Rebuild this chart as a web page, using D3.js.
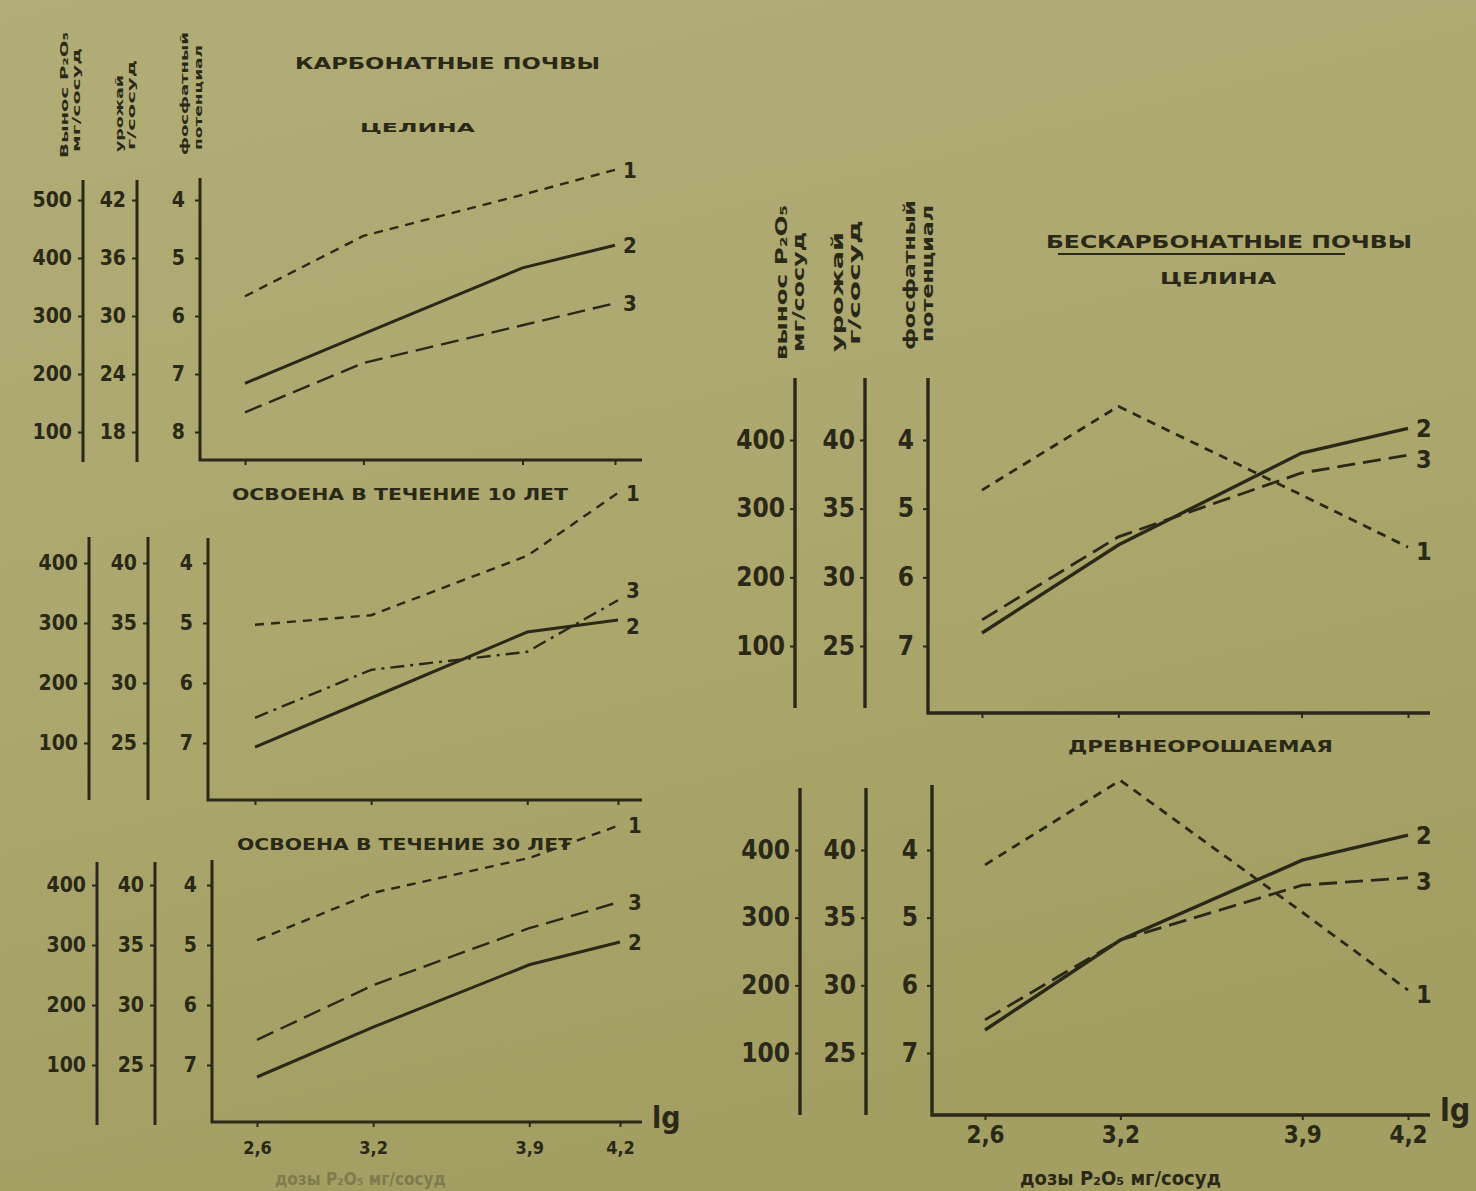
<!DOCTYPE html>
<html>
<head>
<meta charset="utf-8">
<script src="https://cdn.jsdelivr.net/npm/d3@7"></script>
<style>
  body { margin: 0; background: #aaa66d; }
  svg { display: block; }
  text { font-family: 'DejaVu Sans Condensed', 'Liberation Sans Narrow', sans-serif; font-weight: bold; fill: #2a2917; }
</style>
</head>
<body>
<svg id="chart" width="1476" height="1191"></svg>
<script>
// doses of P2O5, lg scale
var doses = [2.6, 3.2, 3.9, 4.2];
var doseLabels = ["2,6", "3,2", "3,9", "4,2"];

// tick labels of the three left axes
var potTicksA = [4, 5, 6, 7, 8];
var uptakeTicksA = [500, 400, 300, 200, 100];
var yieldTicksA = [42, 36, 30, 24, 18];
var potTicks = [4, 5, 6, 7];
var uptakeTicks = [400, 300, 200, 100];
var yieldTicks = [40, 35, 30, 25];

// phosphate potential per dose, curves 1, 2, 3
var carbVirgin1 = [5.66, 4.62, 3.91, 3.48];
var carbVirgin2 = [7.16, 6.31, 5.17, 4.78];
var carbVirgin3 = [7.66, 6.81, 6.16, 5.78];
var carb10y1 = [5.03, 4.87, 3.88, 2.83];
var carb10y2 = [7.07, 6.25, 5.15, 4.95];
var carb10y3 = [6.58, 5.78, 5.48, 4.62];
var carb30y1 = [4.92, 4.13, 3.55, 3.0];
var carb30y2 = [7.2, 6.37, 5.33, 4.95];
var carb30y3 = [6.58, 5.67, 4.72, 4.28];
var nonCarbVirgin1 = [4.73, 3.51, 4.80, 5.56];
var nonCarbVirgin2 = [6.81, 5.53, 4.19, 3.83];
var nonCarbVirgin3 = [6.62, 5.41, 4.48, 4.22];
var nonCarbIrr1 = [4.22, 2.97, 4.92, 6.07];
var nonCarbIrr2 = [6.66, 5.33, 4.15, 3.78];
var nonCarbIrr3 = [6.51, 5.33, 4.52, 4.41];

var ink = "#2a2917";
var svg = d3.select("#chart");

var defs = svg.append("defs");
var grad = defs.append("linearGradient").attr("id", "paper")
    .attr("x1", 0).attr("y1", 0).attr("x2", 0.3).attr("y2", 1);
grad.append("stop").attr("offset", "0%").attr("stop-color", "#b2ad77");
grad.append("stop").attr("offset", "60%").attr("stop-color", "#aaa66c");
grad.append("stop").attr("offset", "100%").attr("stop-color", "#a39f63");
svg.append("rect").attr("width", 1476).attr("height", 1191).attr("fill", "url(#paper)");

var doseFrac = [0, 0.32, 0.75, 1];
var dashes = [ "9,7", null, "18,8" ];
var fmt = d3.format("d");

var drawPanel = function(p) {
  var g = svg.append("g");
  var x = d3.scaleLinear()
      .domain(doses)
      .range(doseFrac.map(function(f) { return p.x0 + f * (p.x1 - p.x0); }));
  var y = d3.scaleLinear()
      .domain([p.pot[0], p.pot[p.pot.length - 1]])
      .range([p.yTop, p.yBot]);
  var yUp = d3.scaleLinear()
      .domain([p.uptake[0], p.uptake[p.uptake.length - 1]])
      .range([p.yTop, p.yBot]);
  var yYield = d3.scaleLinear()
      .domain([p.yields[0], p.yields[p.yields.length - 1]])
      .range([p.yTop, p.yBot]);

  // two outer axes
  [[p.ax1, yUp, p.uptake], [p.ax2, yYield, p.yields]].forEach(function(a) {
    g.append("line")
        .attr("x1", a[0]).attr("x2", a[0])
        .attr("y1", p.outerTop).attr("y2", p.outerBot)
        .attr("stroke", ink).attr("stroke-width", p.sw);
    var ax = g.append("g")
        .attr("transform", "translate(" + a[0] + ",0)")
        .call(d3.axisLeft(a[1]).tickValues(a[2]).tickFormat(fmt).tickSize(5).tickPadding(p.pad));
    ax.select(".domain").remove();
  });

  // inner axis + x axis as an L
  g.append("path")
      .attr("d", "M" + p.axisX + "," + p.top + "V" + p.bottom + "H" + p.right)
      .attr("fill", "none").attr("stroke", ink).attr("stroke-width", p.sw);
  var inner = g.append("g")
      .attr("transform", "translate(" + p.axisX + ",0)")
      .call(d3.axisLeft(y).tickValues(p.pot).tickFormat(fmt).tickSize(5).tickPadding(p.pad + 4));
  inner.select(".domain").remove();

  var xa = g.append("g")
      .attr("transform", "translate(0," + p.bottom + ")")
      .call(d3.axisBottom(x).tickValues(doses).tickSize(5).tickPadding(p.xPad)
        .tickFormat(function(d, i) { return p.showDoses ? doseLabels[i] : ""; }));
  xa.select(".domain").remove();

  g.selectAll(".tick line").attr("stroke", ink).attr("stroke-width", 2);
  g.selectAll(".tick text")
      .style("font-size", p.fs + "px")
      .attr("fill", ink);
  xa.selectAll(".tick text").style("font-size", p.xfs + "px");

  var line = d3.line()
      .x(function(d, i) { return x(doses[i]); })
      .y(function(d) { return y(d); });

  p.series.forEach(function(s, i) {
    g.append("path")
        .datum(s)
        .attr("d", line)
        .attr("fill", "none")
        .attr("stroke", ink)
        .attr("stroke-width", i === 1 ? p.sw : p.sw - 0.6)
        .attr("stroke-dasharray", i === 2 && p.dash3 ? p.dash3 : dashes[i]);
    g.append("text")
        .attr("x", x(doses[3]) + 8)
        .attr("y", y(s[3]) + p.nfs * 0.35 + (p.nOff ? p.nOff[i] : 0))
        .style("font-size", p.nfs + "px")
        .text(i + 1);
  });

  if (p.showDoses) {
    g.append("text")
        .attr("x", p.right + 10).attr("y", p.bottom + 6)
        .style("font-size", p.lgfs + "px")
        .text("lg");
  }
};

drawPanel({
  axisX: 200, top: 178, bottom: 460, right: 642,
  x0: 245, x1: 615, yTop: 200, yBot: 432,
  pot: potTicksA, uptake: uptakeTicksA, yields: yieldTicksA,
  ax1: 83, ax2: 137, outerTop: 180, outerBot: 462,
  series: [carbVirgin1, carbVirgin2, carbVirgin3],
  sw: 3, pad: 6, fs: 21, xfs: 18, nfs: 22, xPad: 10, showDoses: false
});
drawPanel({
  axisX: 208, top: 538, bottom: 800, right: 642,
  x0: 255, x1: 618, yTop: 563, yBot: 743,
  pot: potTicks, uptake: uptakeTicks, yields: yieldTicks,
  ax1: 89, ax2: 148, outerTop: 537, outerBot: 800,
  series: [carb10y1, carb10y2, carb10y3], dash3: "14,6,3,6", nOff: [0, 6, -10],
  sw: 3, pad: 6, fs: 21, xfs: 18, nfs: 22, xPad: 10, showDoses: false
});
drawPanel({
  axisX: 212, top: 860, bottom: 1122, right: 642,
  x0: 257, x1: 620, yTop: 885, yBot: 1065,
  pot: potTicks, uptake: uptakeTicks, yields: yieldTicks,
  ax1: 97, ax2: 155, outerTop: 862, outerBot: 1125,
  series: [carb30y1, carb30y2, carb30y3],
  sw: 3, pad: 6, fs: 21, xfs: 18, nfs: 22, xPad: 14, lgfs: 30, showDoses: true
});
drawPanel({
  axisX: 928, top: 378, bottom: 713, right: 1430,
  x0: 982, x1: 1408, yTop: 440, yBot: 646,
  pot: potTicks, uptake: uptakeTicks, yields: yieldTicks,
  ax1: 795, ax2: 865, outerTop: 378, outerBot: 708,
  series: [nonCarbVirgin1, nonCarbVirgin2, nonCarbVirgin3], nOff: [4, 0, 4],
  sw: 3.4, pad: 5, fs: 26, xfs: 24, nfs: 25, xPad: 8, showDoses: false
});
drawPanel({
  axisX: 932, top: 785, bottom: 1115, right: 1430,
  x0: 985, x1: 1408, yTop: 850, yBot: 1053,
  pot: potTicks, uptake: uptakeTicks, yields: yieldTicks,
  ax1: 800, ax2: 866, outerTop: 788, outerBot: 1115,
  series: [nonCarbIrr1, nonCarbIrr2, nonCarbIrr3], nOff: [4, 0, 4],
  sw: 3.4, pad: 5, fs: 26, xfs: 24, nfs: 25, xPad: 6, lgfs: 32, showDoses: true
});

// titles
var title = function(txt, x1, x2, yb, fs) {
  svg.append("text")
      .attr("x", x1).attr("y", yb)
      .attr("textLength", x2 - x1).attr("lengthAdjust", "spacingAndGlyphs")
      .style("font-family", "'DejaVu Sans', sans-serif")
      .style("font-size", fs + "px")
      .text(txt);
};
title("КАРБОНАТНЫЕ ПОЧВЫ", 295, 600, 69, 15);
title("ЦЕЛИНА", 360, 475, 132, 13);
title("ОСВОЕНА В ТЕЧЕНИЕ 10 ЛЕТ", 232, 568, 500, 15);
title("ОСВОЕНА В ТЕЧЕНИЕ 30 ЛЕТ", 237, 572, 850, 15);
title("БЕСКАРБОНАТНЫЕ ПОЧВЫ", 1046, 1412, 248, 17);
title("ЦЕЛИНА", 1160, 1276, 284, 15);
title("ДРЕВНЕОРОШАЕМАЯ", 1068, 1333, 752, 15);
svg.append("line").attr("x1", 1058).attr("x2", 1345).attr("y1", 254).attr("y2", 254)
    .attr("stroke", ink).attr("stroke-width", 2);

// rotated axis captions
var caption = function(txt, x, yBottom, yTop, fs) {
  svg.append("text")
      .attr("transform", "translate(" + x + "," + yBottom + ") rotate(-90)")
      .attr("textLength", yBottom - yTop).attr("lengthAdjust", "spacingAndGlyphs")
      .style("font-size", fs + "px")
      .text(txt);
};
caption("Вынос P₂O₅", 68, 158, 32, 11);
caption("мг/сосуд", 80, 152, 48, 11);
caption("урожай", 123, 152, 75, 11);
caption("г/сосуд", 135, 150, 60, 11);
caption("фосфатный", 188, 155, 32, 11);
caption("потенциал", 202, 150, 45, 11);

caption("вынос P₂O₅", 787, 360, 205, 16);
caption("мг/сосуд", 804, 352, 232, 15);
caption("урожай", 843, 352, 232, 16);
caption("г/сосуд", 860, 345, 220, 15);
caption("фосфатный", 915, 350, 200, 16);
caption("потенциал", 933, 342, 205, 15);

// dose captions near the page bottom
svg.append("text")
    .attr("x", 1020).attr("y", 1185)
    .style("font-size", "20px")
    .text("дозы P₂O₅ мг/сосуд");
svg.append("text")
    .attr("x", 275).attr("y", 1185)
    .attr("opacity", 0.3)
    .style("font-size", "17px")
    .text("дозы P₂O₅ мг/сосуд");
</script>
</body>
</html>
